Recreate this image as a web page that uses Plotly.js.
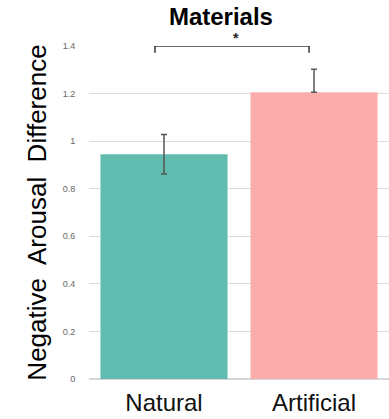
<!DOCTYPE html>
<html>
<head>
<meta charset="utf-8">
<script src="https://cdn.plot.ly/plotly-3.0.1.min.js"></script>
<style>html,body{margin:0;padding:0;background:#fff;}#chart{width:389px;height:419px;}</style>
</head>
<body>
<div id="chart"></div>
<script>
const categories = ["Natural", "Artificial"];
const values = [0.945, 1.206];
const errPlus = [0.083, 0.096];
const errMinus = [0.083, 0];
const barColors = ["#5fbcae", "#fbadad"];
const tickVals = [0, 0.2, 0.4, 0.6, 0.8, 1, 1.2, 1.4];
const sigLabel = "*";
const sigLevel = 1.4;

const trace = {
  type: "bar",
  x: categories,
  y: values,
  marker: {color: barColors},
  error_y: {type: "data", symmetric: false, array: errPlus, arrayminus: errMinus,
            color: "#555555", thickness: 1.5, width: 3},
  hoverinfo: "none"
};

const layout = {
  width: 389, height: 419,
  margin: {l: 89, r: 0, t: 46, b: 40},
  paper_bgcolor: "#ffffff", plot_bgcolor: "#ffffff",
  bargap: 0.153,
  showlegend: false,
  font: {family: "Liberation Sans, Arial, sans-serif"},
  title: {text: "<b>Materials</b>", font: {size: 24, color: "#000"}, x: 0.568, xanchor: "center", y: 0.96, yanchor: "middle"},
  xaxis: {
    range: [-0.5, 1.5],
    ticks: "outside", ticklen: 2, tickcolor: "rgba(0,0,0,0)",
    tickfont: {size: 24, color: "#111"},
    showgrid: false, showline: false, zeroline: false
  },
  yaxis: {
    range: [0, 1.4],
    tickvals: tickVals,
    tickfont: {size: 9, color: "#666"},
    ticks: "outside", ticklen: 11, tickcolor: "rgba(0,0,0,0)",
    gridcolor: "#dcdcdc", gridwidth: 1,
    zeroline: true, zerolinecolor: "#d6d6d6", zerolinewidth: 1.5,
    showline: false,
    title: {text: "Negative&nbsp; Arousal&nbsp; Difference", font: {size: 26, color: "#000"}, standoff: 8}
  },
  shapes: [
    {type: "line", xref: "x", yref: "y", x0: -0.06, x1: 0.967, y0: sigLevel, y1: sigLevel, line: {color: "#333", width: 1.5}},
    {type: "line", xref: "x", yref: "y", x0: -0.06, x1: -0.06, y0: sigLevel, y1: sigLevel - 0.028, line: {color: "#333", width: 1.5}},
    {type: "line", xref: "x", yref: "y", x0: 0.967, x1: 0.967, y0: sigLevel, y1: sigLevel - 0.028, line: {color: "#333", width: 1.5}}
  ],
  annotations: [
    {x: 0.48, y: sigLevel, xref: "x", yref: "y", text: "<b>" + sigLabel + "</b>", showarrow: false,
     yanchor: "middle", yshift: 8, font: {size: 14, color: "#222"}}
  ]
};

Plotly.newPlot("chart", [trace], layout, {displayModeBar: false, staticPlot: true});
</script>
</body>
</html>
